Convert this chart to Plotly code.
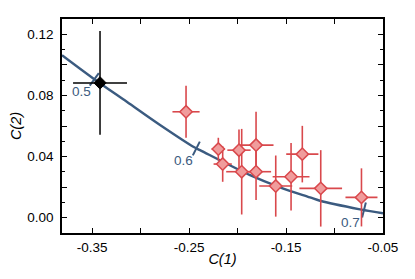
import plotly.graph_objects as go

# ---- data ----
# red measurements
meas_c1 = [-0.2531, -0.2198, -0.2153, -0.1985, -0.1957, -0.1809, -0.1809,
           -0.1606, -0.1448, -0.1332, -0.1142, -0.0722]
meas_c2 = [0.0693, 0.0449, 0.0351, 0.0442, 0.0301, 0.0475, 0.0301,
           0.0207, 0.0268, 0.0416, 0.0192, 0.0133]
meas_c1_err = [0.014, 0.0069, 0.0094, 0.012, 0.016, 0.018, 0.0155,
               0.017, 0.019, 0.0166, 0.022, 0.0165]
meas_c2_err = [0.017, 0.0074, 0.0116, 0.0135, 0.028, 0.0218, 0.0185,
               0.020, 0.022, 0.0185, 0.025, 0.019]

# black reference point
ref_c1 = [-0.3418]
ref_c2 = [0.0882]
ref_c1_err = [0.0278]
ref_c2_err = [0.034]

# blue model curve
curve_c1 = [-0.381, -0.3487, -0.3142, -0.2799, -0.2456, -0.2387, -0.1871,
            -0.1562, -0.1253, -0.115, -0.0737, -0.050]
curve_c2 = [0.1063, 0.0911, 0.0758, 0.0606, 0.0464, 0.0442, 0.0279,
            0.0199, 0.0133, 0.0111, 0.0055, 0.0029]

# parameter marks on the curve
param_c1 = [-0.3477, -0.2425, -0.0696]
param_c2 = [0.0905, 0.0453, 0.0050]
param_labels = ["0.5", "0.6", "0.7"]
param_angles = [36, 27, 14]

# axis ticks
x_tickvals = [-0.35, -0.30, -0.25, -0.20, -0.15, -0.10, -0.05]
x_ticktext = ["-0.35", "", "-0.25", "", "-0.15", "", "-0.05"]
y_tickvals = [0.00, 0.02, 0.04, 0.06, 0.08, 0.10, 0.12]
y_ticktext = ["0.00", "", "0.04", "", "0.08", "", "0.12"]

BLUE = "#3b5b80"
RED = "#d9484c"
RED_FILL = "#f09c9c"
FONT = "Liberation Sans, Arial, sans-serif"

fig = go.Figure()

fig.add_trace(go.Scatter(
    x=curve_c1, y=curve_c2, mode="lines",
    line=dict(color=BLUE, width=2.4, shape="spline", smoothing=1.0),
    hoverinfo="skip", showlegend=False))

fig.add_trace(go.Scatter(
    x=param_c1, y=param_c2, mode="markers",
    marker=dict(symbol="line-ns", size=11, angle=param_angles,
                line=dict(color=BLUE, width=2)),
    hoverinfo="skip", showlegend=False))

fig.add_trace(go.Scatter(
    x=meas_c1, y=meas_c2, mode="markers",
    error_x=dict(type="data", array=meas_c1_err, color=RED, thickness=1.6, width=0),
    error_y=dict(type="data", array=meas_c2_err, color=RED, thickness=1.6, width=0),
    marker=dict(symbol="diamond", size=9.5, color=RED_FILL,
                line=dict(color=RED, width=1.5)),
    showlegend=False))

fig.add_trace(go.Scatter(
    x=ref_c1, y=ref_c2, mode="markers",
    error_x=dict(type="data", array=ref_c1_err, color="black", thickness=1.5, width=0),
    error_y=dict(type="data", array=ref_c2_err, color="black", thickness=1.5, width=0),
    marker=dict(symbol="diamond", size=9.5, color="black",
                line=dict(color="black", width=1)),
    showlegend=False))

for cx, cy, lab in zip(param_c1, param_c2, param_labels):
    fig.add_annotation(x=cx, y=cy, text=lab, showarrow=False,
                       xshift=-13, yshift=-12.5,
                       font=dict(family=FONT, size=13.5, color=BLUE))

axis_common = dict(
    showline=True, linecolor="black", linewidth=1.5, mirror="allticks",
    ticks="inside", ticklen=5, tickwidth=1.2, tickcolor="black",
    showgrid=False, zeroline=False, automargin=False,
    tickfont=dict(family=FONT, size=13.5, color="black"),
)

fig.update_xaxes(
    range=[-0.381, -0.05], tickmode="array",
    tickvals=x_tickvals, ticktext=x_ticktext,
    ticklabelstandoff=1,
    title=dict(text="<i>C(1)</i>", font=dict(family=FONT, size=14.5, color="black"),
               standoff=0),
    **axis_common)
fig.update_yaxes(
    range=[-0.01, 0.13], tickmode="array",
    tickvals=y_tickvals, ticktext=y_ticktext,
    minor=dict(dtick=0.01, tick0=0, ticks="inside", ticklen=3.5,
               tickwidth=1.2, tickcolor="black"),
    ticklabelstandoff=4,
    title=dict(text="<i>C(2)</i>", font=dict(family=FONT, size=14.5, color="black"),
               standoff=5),
    **axis_common)

# the page body adds an 8px offset; compensate so the frame lands where the reference has it
fig.update_layout(
    width=407, height=271,
    margin=dict(l=54, r=32, t=11, b=46),
    paper_bgcolor="white", plot_bgcolor="white",
    font=dict(family=FONT),
)

fig.write_html("out.html")
